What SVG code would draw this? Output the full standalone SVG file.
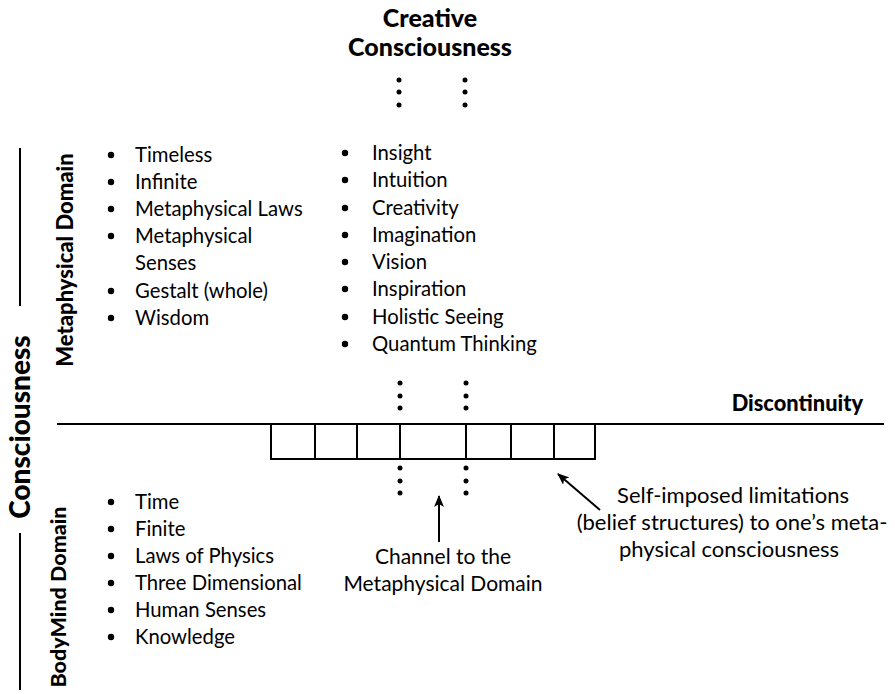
<svg xmlns="http://www.w3.org/2000/svg" width="895" height="694" viewBox="0 0 895 694">
<defs>
<marker id="ah" markerWidth="12" markerHeight="10" refX="11" refY="5" orient="auto" markerUnits="userSpaceOnUse">
<path d="M0,0 L12,5 L0,10 L3,5 Z" fill="#000"/>
</marker>
</defs>
<style>
text{font-family:Lato,"Open Sans","Liberation Sans",sans-serif;fill:#000}
.t{font-size:20.3px}
.b{font-weight:900}
.h{font-size:25px;font-weight:900}
.c{text-anchor:middle}
.ln{stroke:#000;stroke-width:2;fill:none}
.box{stroke:#000;stroke-width:2;fill:#fff}
.dot{fill:#000}
</style>
<rect width="895" height="694" fill="#fff"/>

<g id="creative">
<text class="h c" x="430" y="27">Creative</text>
<text class="h c" x="430" y="56">Consciousness</text>
</g>

<g id="dots">
<circle class="dot" cx="399" cy="80" r="2.5"/><circle class="dot" cx="399" cy="92" r="2.5"/><circle class="dot" cx="399" cy="105" r="2.5"/>
<circle class="dot" cx="465" cy="80" r="2.5"/><circle class="dot" cx="465" cy="92" r="2.5"/><circle class="dot" cx="465" cy="105" r="2.5"/>
<circle class="dot" cx="400" cy="383" r="2.5"/><circle class="dot" cx="400" cy="396" r="2.5"/><circle class="dot" cx="400" cy="408" r="2.5"/>
<circle class="dot" cx="466" cy="383" r="2.5"/><circle class="dot" cx="466" cy="396" r="2.5"/><circle class="dot" cx="466" cy="408" r="2.5"/>
<circle class="dot" cx="400" cy="468" r="2.5"/><circle class="dot" cx="400" cy="481" r="2.5"/><circle class="dot" cx="400" cy="493" r="2.5"/>
<circle class="dot" cx="466" cy="468" r="2.5"/><circle class="dot" cx="466" cy="481" r="2.5"/><circle class="dot" cx="466" cy="493" r="2.5"/>
</g>

<g id="consciousness-axis">
<line class="ln" x1="20" y1="148" x2="20" y2="306"/>
<line class="ln" x1="20" y1="533" x2="20" y2="690"/>
<text class="c b" font-size="28" transform="translate(30,427) rotate(-90)">Consciousness</text>
<text class="c b" font-size="22" transform="translate(73,260) rotate(-90)">Metaphysical Domain</text>
<text class="c b" font-size="21.5" transform="translate(66,597) rotate(-90)">BodyMind Domain</text>
</g>

<g id="meta-list-left">
<circle class="dot" cx="111" cy="155" r="3.2"/><text class="t" x="135" y="162">Timeless</text>
<circle class="dot" cx="111" cy="182" r="3.2"/><text class="t" x="135" y="189">Infinite</text>
<circle class="dot" cx="111" cy="209" r="3.2"/><text class="t" x="135" y="216">Metaphysical Laws</text>
<circle class="dot" cx="111" cy="236" r="3.2"/><text class="t" x="135" y="243">Metaphysical</text>
<text class="t" x="135" y="270">Senses</text>
<circle class="dot" cx="111" cy="291" r="3.2"/><text class="t" x="135" y="298">Gestalt (whole)</text>
<circle class="dot" cx="111" cy="318" r="3.2"/><text class="t" x="135" y="325">Wisdom</text>
</g>

<g id="meta-list-mid">
<circle class="dot" cx="345" cy="153" r="3.2"/><text class="t" x="372" y="160">Insight</text>
<circle class="dot" cx="345" cy="180" r="3.2"/><text class="t" x="372" y="187">Intuition</text>
<circle class="dot" cx="345" cy="208" r="3.2"/><text class="t" x="372" y="215">Creativity</text>
<circle class="dot" cx="345" cy="235" r="3.2"/><text class="t" x="372" y="242">Imagination</text>
<circle class="dot" cx="345" cy="262" r="3.2"/><text class="t" x="372" y="269">Vision</text>
<circle class="dot" cx="345" cy="289" r="3.2"/><text class="t" x="372" y="296">Inspiration</text>
<circle class="dot" cx="345" cy="317" r="3.2"/><text class="t" x="372" y="324">Holistic Seeing</text>
<circle class="dot" cx="345" cy="344" r="3.2"/><text class="t" x="372" y="351">Quantum Thinking</text>
</g>

<g id="body-list">
<circle class="dot" cx="111" cy="502" r="3.2"/><text class="t" x="135" y="509">Time</text>
<circle class="dot" cx="111" cy="529" r="3.2"/><text class="t" x="135" y="536">Finite</text>
<circle class="dot" cx="111" cy="556" r="3.2"/><text class="t" x="135" y="563">Laws of Physics</text>
<circle class="dot" cx="111" cy="583" r="3.2"/><text class="t" x="135" y="590">Three Dimensional</text>
<circle class="dot" cx="111" cy="610" r="3.2"/><text class="t" x="135" y="617">Human Senses</text>
<circle class="dot" cx="111" cy="637" r="3.2"/><text class="t" x="135" y="644">Knowledge</text>
</g>

<g id="discontinuity">
<line class="ln" x1="57" y1="424" x2="884" y2="424"/>
<text class="b" font-size="21.8" x="863" y="411" text-anchor="end">Discontinuity</text>
</g>

<g id="limitations-boxes">
<rect class="box" x="271" y="424" width="324" height="35"/>
<line class="ln" x1="315" y1="424" x2="315" y2="459"/>
<line class="ln" x1="357" y1="424" x2="357" y2="459"/>
<line class="ln" x1="400" y1="424" x2="400" y2="459"/>
<line class="ln" x1="466" y1="424" x2="466" y2="459"/>
<line class="ln" x1="511" y1="424" x2="511" y2="459"/>
<line class="ln" x1="554" y1="424" x2="554" y2="459"/>
</g>

<g id="connectors">
<line class="ln" x1="439" y1="542" x2="439" y2="496" marker-end="url(#ah)"/>
<line class="ln" x1="600" y1="510" x2="558" y2="474" marker-end="url(#ah)"/>
</g>

<g id="channel-label">
<text class="c" font-size="21" x="443" y="564">Channel to the</text>
<text class="c" font-size="21" x="443" y="591">Metaphysical Domain</text>
</g>

<g id="limitations-label">
<text class="c" font-size="22" x="733" y="503">Self-imposed limitations</text>
<text class="c" font-size="22" x="732" y="530">(belief structures) to one’s meta-</text>
<text class="c" font-size="22" x="729" y="557">physical consciousness</text>
</g>
</svg>
